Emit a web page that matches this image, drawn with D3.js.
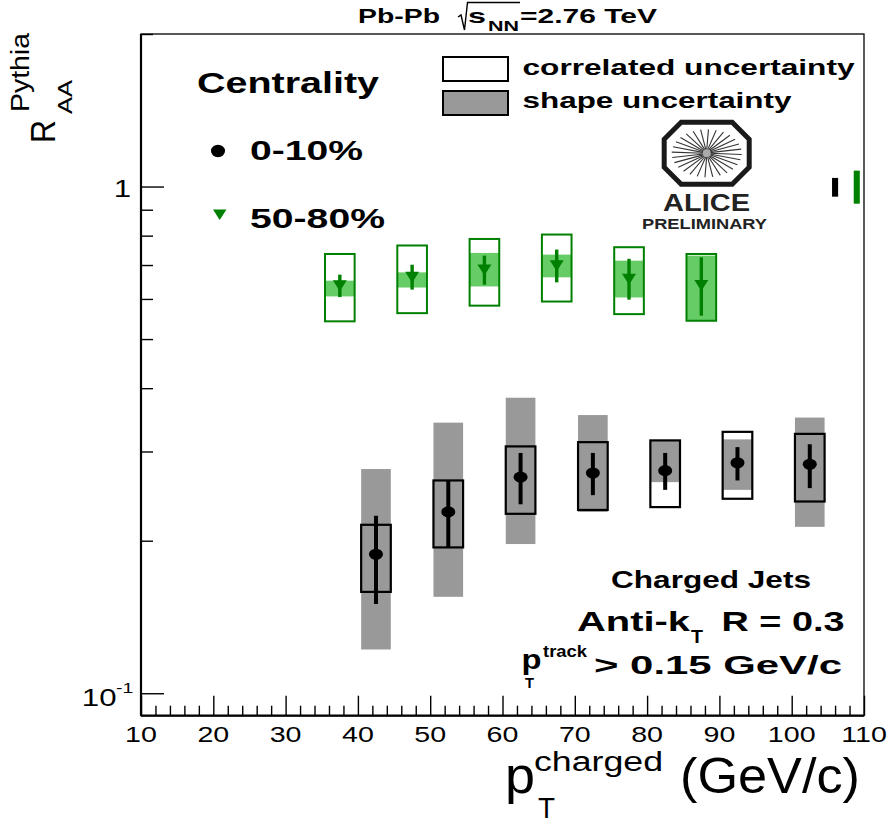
<!DOCTYPE html>
<html><head><meta charset="utf-8">
<script src="https://cdn.jsdelivr.net/npm/d3@7"></script>
<style>body{margin:0;background:#fff} text{font-family:"Liberation Sans",Arial,Helvetica,sans-serif}</style>
</head><body><svg id="c" width="891" height="824"></svg>
<script>
// ---------- data ----------
const ptCentral      = [42.5, 52.5, 62.5, 72.5, 82.5, 92.5, 102.5];
const raaCentral     = [0.188, 0.228, 0.267, 0.272, 0.275, 0.285, 0.283];
const statLoCentral  = [0.150, 0.194, 0.236, 0.246, 0.252, 0.263, 0.254];
const statHiCentral  = [0.224, 0.263, 0.298, 0.298, 0.298, 0.306, 0.310];
const corrLoCentral  = [0.1585, 0.194, 0.226, 0.230, 0.233, 0.242, 0.239];
const corrHiCentral  = [0.215, 0.263, 0.307, 0.313, 0.3155, 0.328, 0.325];
const shapeLoCentral = [0.122, 0.155, 0.197, 0.228, 0.261, 0.252, 0.213];
const shapeHiCentral = [0.277, 0.342, 0.383, 0.354, 0.3155, 0.317, 0.350];

const ptPeriph      = [37.5, 47.5, 57.5, 67.5, 77.5, 87.5];
const raaPeriph     = [0.637, 0.6625, 0.684, 0.698, 0.656, 0.638];
const statLoPeriph  = [0.605, 0.626, 0.640, 0.647, 0.598, 0.556];
const statHiPeriph  = [0.670, 0.701, 0.7305, 0.751, 0.720, 0.725];
const corrLoPeriph  = [0.542, 0.5625, 0.582, 0.593, 0.560, 0.5434];
const corrHiPeriph  = [0.736, 0.765, 0.788, 0.804, 0.759, 0.736];
const shapeLoPeriph = [0.607, 0.632, 0.635, 0.662, 0.604, 0.5434];
const shapeHiPeriph = [0.652, 0.677, 0.7395, 0.734, 0.714, 0.7305];

const normX  = [106, 109];
const normLo = [0.955, 0.925];
const normHi = [1.040, 1.075];

const xMajorTicks = [10,20,30,40,50,60,70,80,90,100,110];
const xMinorTicks = d3.range(12, 110, 2).filter(v => v % 10 !== 0);
const yMajorTicks = [0.1, 1];
const yMinorTicks = [0.2,0.3,0.4,0.5,0.6,0.7,0.8,0.9,2];

// ---------- setup ----------
const svg = d3.select("#c");
const x = d3.scaleLinear().domain([10,110]).range([141,864]);
const y = d3.scaleLog().domain([0.0903,2.0]).range([715.7,34]);
const HW = 2.05; // half width of boxes in pT units

const BLACK="#000", GREEN="#008000", LGREEN="#66cc66", GRAY="#999999";

// frame
svg.append("rect").attr("x",x(10)).attr("y",y(2.0)).attr("width",x(110)-x(10)).attr("height",y(0.0903)-y(2.0))
  .attr("fill","none").attr("stroke","#000").attr("stroke-width",1.3);

// axes
const gx = svg.append("g").attr("transform",`translate(0,${y.range()[0]})`);
gx.call(d3.axisBottom(x).tickValues(xMajorTicks).tickSize(-20).tickFormat(""));
gx.select(".domain").remove();
const gx2 = svg.append("g").attr("transform",`translate(0,${y.range()[0]})`);
gx2.call(d3.axisBottom(x).tickValues(xMinorTicks).tickSize(-10).tickFormat(""));
gx2.select(".domain").remove();
const gy = svg.append("g").attr("transform",`translate(${x.range()[0]},0)`);
gy.call(d3.axisLeft(y).tickValues(yMajorTicks).tickSize(-23).tickFormat(""));
gy.select(".domain").remove();
const gy2 = svg.append("g").attr("transform",`translate(${x.range()[0]},0)`);
gy2.call(d3.axisLeft(y).tickValues(yMinorTicks).tickSize(-12).tickFormat(""));
gy2.select(".domain").remove();
svg.selectAll(".tick text").remove();
svg.selectAll(".tick line").attr("stroke","#000").attr("stroke-width",1.4);
// thicker axis lines
svg.append("line").attr("x1",x(10)).attr("x2",x(110)).attr("y1",y(0.0903)).attr("y2",y(0.0903)).attr("stroke","#000").attr("stroke-width",2.2);
svg.append("line").attr("x1",x(10)).attr("x2",x(10)).attr("y1",y(0.0903)).attr("y2",y(2.0)).attr("stroke","#000").attr("stroke-width",2.2);

// x tick labels
svg.append("g").selectAll("text").data(xMajorTicks).join("text")
  .attr("transform", d=>`translate(${x(d)},742) scale(1.3,1)`)
  .attr("text-anchor","middle").attr("font-size",22).text(d=>d);
// y tick labels
svg.append("text").attr("transform",`translate(131,${y(1)+10.5}) scale(1.3,1)`).attr("text-anchor","end").attr("font-size",24).text("1");
svg.append("text").attr("transform",`translate(116.5,${y(0.1)+13}) scale(1.3,1)`).attr("text-anchor","end").attr("font-size",24).text("10");
svg.append("text").attr("transform",`translate(116,${y(0.1)-0.5}) scale(1.3,1)`).attr("text-anchor","start").attr("font-size",15).text("-1");

// ---------- data marks ----------
function drawSeries(pts, val, sLo, sHi, cLo, cHi, hLo, hHi, opt){
  const g = svg.append("g");
  const d = pts.map((p,i)=>({p, v:val[i], sLo:sLo[i], sHi:sHi[i], cLo:cLo[i], cHi:cHi[i], hLo:hLo[i], hHi:hHi[i]}));
  g.selectAll(".shape").data(d).join("rect")
    .attr("x",e=>x(e.p-HW)).attr("width",e=>x(e.p+HW)-x(e.p-HW))
    .attr("y",e=>y(e.hHi)).attr("height",e=>y(e.hLo)-y(e.hHi)).attr("fill",opt.fill);
  g.selectAll(".corr").data(d).join("rect")
    .attr("x",e=>x(e.p-HW)).attr("width",e=>x(e.p+HW)-x(e.p-HW))
    .attr("y",e=>y(e.cHi)).attr("height",e=>y(e.cLo)-y(e.cHi))
    .attr("fill","none").attr("stroke",opt.line).attr("stroke-width",opt.boxW);
  g.selectAll(".stat").data(d).join("line")
    .attr("x1",e=>x(e.p)).attr("x2",e=>x(e.p)).attr("y1",e=>y(e.sHi)).attr("y2",e=>y(e.sLo))
    .attr("stroke",opt.line).attr("stroke-width",opt.barW);
  if(opt.marker==="circle"){
    g.selectAll(".m").data(d).join("ellipse")
      .attr("cx",e=>x(e.p)).attr("cy",e=>y(e.v)).attr("rx",7).attr("ry",5.6).attr("fill",opt.line);
  } else {
    g.selectAll(".m").data(d).join("path")
      .attr("d",e=>{const cx=x(e.p), cy=y(e.v); return `M${cx-7},${cy-5.5}L${cx+7},${cy-5.5}L${cx},${cy+5.5}Z`;})
      .attr("fill",opt.line);
  }
}
drawSeries(ptPeriph, raaPeriph, statLoPeriph, statHiPeriph, corrLoPeriph, corrHiPeriph, shapeLoPeriph, shapeHiPeriph,
  {fill:LGREEN, line:GREEN, boxW:2, barW:3.4, marker:"tri"});
drawSeries(ptCentral, raaCentral, statLoCentral, statHiCentral, corrLoCentral, corrHiCentral, shapeLoCentral, shapeHiCentral,
  {fill:GRAY, line:BLACK, boxW:2.2, barW:4, marker:"circle"});

// normalization uncertainties at unity
svg.append("g").selectAll("rect").data(normX.map((p,i)=>({p, lo:normLo[i], hi:normHi[i], c:i===0?BLACK:GREEN}))).join("rect")
  .attr("x",e=>x(e.p-0.42)).attr("width",e=>x(e.p+0.42)-x(e.p-0.42))
  .attr("y",e=>y(e.hi)).attr("height",e=>y(e.lo)-y(e.hi)).attr("fill",e=>e.c);

// ---------- texts ----------
function txt(s, xx, yy, size, len, opts={}){
  const t = svg.append("text").attr("x",xx).attr("y",yy).attr("font-size",size).text(s);
  if(opts.bold!==false) t.attr("font-weight","bold");
  if(len) t.attr("textLength",len).attr("lengthAdjust","spacingAndGlyphs");
  if(opts.family) t.attr("font-family",opts.family);
  if(opts.fill) t.attr("fill",opts.fill);
  return t;
}
// title
txt("Pb-Pb", 358, 23, 21, 82);
svg.append("path").attr("d","M458,17L461,15L464.5,30L467.5,2.5L520,2.5").attr("fill","none").attr("stroke","#000").attr("stroke-width",1.4);
txt("s", 468, 23, 21, 18);
txt("NN", 488, 30.5, 15, 31);
txt("=2.76 TeV", 520, 23, 21, 137);

// centrality legend
txt("Centrality", 197, 93, 29, 182);
svg.append("ellipse").attr("cx",218).attr("cy",151).attr("rx",7).attr("ry",6.2).attr("fill",BLACK);
txt("0-10%", 250, 160, 28, 113);
svg.append("path").attr("d","M213,209.5L226.5,209.5L219.7,220Z").attr("fill",GREEN);
txt("50-80%", 250, 227.5, 28, 135);

// uncertainty legend
svg.append("rect").attr("x",443).attr("y",57).attr("width",65).attr("height",24).attr("fill","#fff").attr("stroke","#000").attr("stroke-width",2);
svg.append("rect").attr("x",443).attr("y",91).attr("width",65).attr("height",24).attr("fill",GRAY).attr("stroke","#000").attr("stroke-width",2);
txt("correlated uncertainty", 522.5, 74.5, 22, 332);
txt("shape uncertainty", 522.5, 108, 22, 269);

// ALICE logo
(function(){
  const cx=706.7, cy=153.3, hw=42.5, hh=31, c=17;
  const pts=[[cx-hw+c,cy-hh],[cx+hw-c,cy-hh],[cx+hw,cy-hh+c],[cx+hw,cy+hh-c],[cx+hw-c,cy+hh],[cx-hw+c,cy+hh],[cx-hw,cy+hh-c],[cx-hw,cy-hh+c]];
  const g=svg.append("g");
  const rays=d3.range(28);
  g.selectAll("line").data(rays).join("line")
    .attr("x1",i=>cx+3*Math.cos(i*Math.PI/14)).attr("y1",i=>cy+3*Math.sin(i*Math.PI/14))
    .attr("x2",i=>cx+35*Math.cos(i*Math.PI/14+0.05)).attr("y2",i=>cy+24*Math.sin(i*Math.PI/14+0.05))
    .attr("stroke","#333").attr("stroke-width",1.1);
  g.append("circle").attr("cx",cx).attr("cy",cy).attr("r",4).attr("fill","#aaa");
  g.append("path").attr("d","M"+pts.map(p=>p.join(",")).join("L")+"Z").attr("fill","none").attr("stroke","#1a1a1a").attr("stroke-width",5);
})();
txt("ALICE", 663, 210.5, 24, 87, {family:"DejaVu Sans Mono", fill:"#222"});
txt("PRELIMINARY", 642, 228.5, 15, 125, {family:"DejaVu Sans Mono", fill:"#222"});

// bottom right annotations
txt("Charged Jets", 611, 588, 24.5, 200);
txt("Anti-k", 577, 631, 28, 113);
txt("T", 691, 643, 18, 12);
txt("R = 0.3", 721.5, 631, 28, 123);
txt("p", 521.5, 669, 28, 20);
txt("track", 543, 657, 16, 44);
txt("T", 525, 688, 15, 9);
txt("> 0.15 GeV/c", 594, 674, 25, 248);

// axis titles
txt("p", 505, 793, 52, 30, {bold:false});
txt("charged", 534, 771, 27, 129, {bold:false});
txt("T", 538, 818, 29, 17, {bold:false});
txt("(GeV/c)", 680, 793, 50, 180, {bold:false});

// y title (rotated)
function rtxt(s, bx, by, size, len){
  const t=svg.append("text").attr("transform",`translate(${bx},${by}) rotate(-90)`).attr("font-size",size).text(s);
  if(len) t.attr("textLength",len).attr("lengthAdjust","spacingAndGlyphs");
  return t;
}
rtxt("R", 55, 143, 35, 23);
rtxt("AA", 71.5, 114, 21, 34);
rtxt("Pythia", 29, 112, 26, 79);
</script></body></html>
